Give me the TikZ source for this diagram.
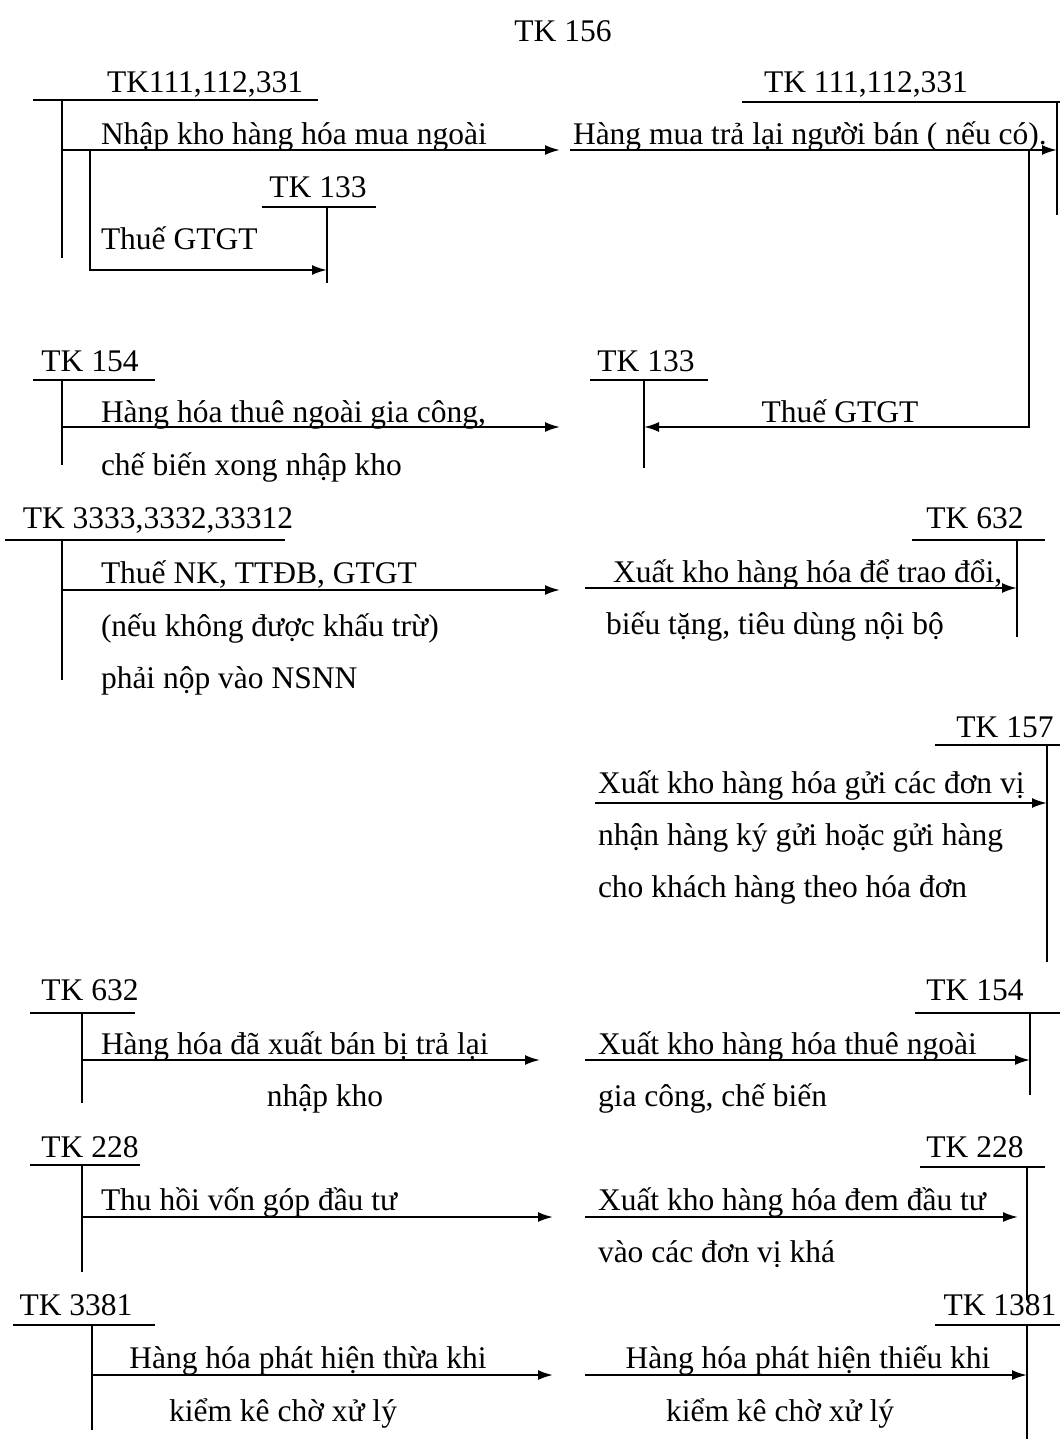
\documentclass[tikz,border=0pt]{standalone}
\usepackage{fontspec}
\setmainfont{Liberation Serif}
\usetikzlibrary{arrows.meta}

\begin{document}
\begin{tikzpicture}[x=1pt, y=-1pt, line width=2pt,
    every node/.style={font=\fontsize{31.5}{37}\selectfont, inner sep=0pt},
    tk/.style={anchor=base},
    txt/.style={anchor=base west},
    ctxt/.style={anchor=base},
    flow/.style={-{Latex[length=15pt,width=10pt]}}]
    \useasboundingbox (0,0) rectangle (1060,1439);

    % Title
    \node[tk] (t156) at (563,42) {TK 156};

    % TK 111,112,331 (left) with TK 133 branch
    \node[tk] (tkA) at (205,93) {TK111,112,331};
    \coordinate (aL) at (33,100); \coordinate (aR) at (318,100);
    \coordinate (aTop) at (62,100); \coordinate (aBot) at (62,258);
    \draw (aL) -- (aR);
    \draw (aTop) -- (aBot);
    \coordinate (aOut) at (62,150); \coordinate (aIn) at (560,150);
    \draw[flow] (aOut) -- (aIn);
    \node[txt] (nhapkho) at (100,145) {Nhập kho hàng hóa mua ngoài};
    \node[tk] (tkB) at (318,198) {TK 133};
    \coordinate (bL) at (262,207); \coordinate (bR) at (376,207);
    \coordinate (bTop) at (327,207); \coordinate (bBot) at (327,283);
    \draw (bL) -- (bR);
    \draw (bTop) -- (bBot);
    \coordinate (bOut) at (90,150); \coordinate (bIn) at (327,270);
    \draw[flow] (bOut) |- (bIn);
    \node[txt] (thueA) at (100,250) {Thuế GTGT};

    % TK 111,112,331 (right) with TK 133 return
    \node[tk] (tkC) at (866,93) {TK 111,112,331};
    \coordinate (cL) at (742,102); \coordinate (cR) at (1060,102);
    \coordinate (cTop) at (1057,102); \coordinate (cBot) at (1057,215);
    \draw (cL) -- (cR);
    \draw (cTop) -- (cBot);
    \coordinate (cOut) at (570,150); \coordinate (cIn) at (1057,150);
    \draw[flow] (cOut) -- (cIn);
    \node[txt] (tralai) at (572,145) {Hàng mua trả lại người bán ( nếu có).};
    \node[tk] (tkD) at (646,371) {TK 133};
    \coordinate (dL) at (590,380); \coordinate (dR) at (708,380);
    \coordinate (dTop) at (644,380); \coordinate (dBot) at (644,468);
    \draw (dL) -- (dR);
    \draw (dTop) -- (dBot);
    \coordinate (dOut) at (1029,150); \coordinate (dIn) at (644,427);
    \draw[flow] (dOut) |- (dIn);
    \node[ctxt] (thueD) at (840,422) {Thuế GTGT};

    % TK 154 (left)
    \node[tk] (tkE) at (90,371) {TK 154};
    \coordinate (eL) at (33,380); \coordinate (eR) at (155,380);
    \coordinate (eTop) at (62,380); \coordinate (eBot) at (62,465);
    \draw (eL) -- (eR);
    \draw (eTop) -- (eBot);
    \coordinate (eOut) at (62,427); \coordinate (eIn) at (560,427);
    \draw[flow] (eOut) -- (eIn);
    \node[txt] (giacong) at (100,422) {Hàng hóa thuê ngoài gia công,};
    \node[txt] (xong) at (100,475) {chế biến xong nhập kho};

    % TK 3333,3332,33312
    \node[tk] (tkF) at (158,528) {TK 3333,3332,33312};
    \coordinate (fL) at (5,540); \coordinate (fR) at (285,540);
    \coordinate (fTop) at (62,540); \coordinate (fBot) at (62,680);
    \draw (fL) -- (fR);
    \draw (fTop) -- (fBot);
    \coordinate (fOut) at (62,590); \coordinate (fIn) at (560,590);
    \draw[flow] (fOut) -- (fIn);
    \node[txt] (thueNK) at (100,583) {Thuế NK, TTĐB, GTGT};
    \node[txt] (khautru) at (100,636) {(nếu không được khấu trừ)};
    \node[txt] (nsnn) at (100,688) {phải nộp vào NSNN};

    % TK 632 (right)
    \node[tk] (tkG) at (975,528) {TK 632};
    \coordinate (gL) at (912,540); \coordinate (gR) at (1045,540);
    \coordinate (gTop) at (1017,540); \coordinate (gBot) at (1017,637);
    \draw (gL) -- (gR);
    \draw (gTop) -- (gBot);
    \coordinate (gOut) at (585,588); \coordinate (gIn) at (1017,588);
    \draw[flow] (gOut) -- (gIn);
    \node[txt] (traodoi) at (612,582) {Xuất kho hàng hóa để trao đổi,};
    \node[txt] (bieutang) at (605,634) {biếu tặng, tiêu dùng nội bộ};

    % TK 157
    \node[tk] (tkH) at (1005,737) {TK 157};
    \coordinate (hL) at (935,745); \coordinate (hR) at (1060,745);
    \coordinate (hTop) at (1047,745); \coordinate (hBot) at (1047,962);
    \draw (hL) -- (hR);
    \draw (hTop) -- (hBot);
    \coordinate (hOut) at (595,803); \coordinate (hIn) at (1047,803);
    \draw[flow] (hOut) -- (hIn);
    \node[txt] (guidv) at (597,793) {Xuất kho hàng hóa gửi các đơn vị};
    \node[txt] (kygui) at (597,845) {nhận hàng ký gửi hoặc gửi hàng};
    \node[txt] (hoadon) at (597,897) {cho khách hàng theo hóa đơn};

    % TK 632 (left)
    \node[tk] (tkI) at (90,1000) {TK 632};
    \coordinate (iL) at (30,1013); \coordinate (iR) at (135,1013);
    \coordinate (iTop) at (82,1013); \coordinate (iBot) at (82,1103);
    \draw (iL) -- (iR);
    \draw (iTop) -- (iBot);
    \coordinate (iOut) at (82,1060); \coordinate (iIn) at (540,1060);
    \draw[flow] (iOut) -- (iIn);
    \node[txt] (bitralai) at (100,1054) {Hàng hóa đã xuất bán bị trả lại};
    \node[ctxt] (nhapkhoI) at (325,1106) {nhập kho};

    % TK 154 (right)
    \node[tk] (tkJ) at (975,1000) {TK 154};
    \coordinate (jL) at (915,1013); \coordinate (jR) at (1060,1013);
    \coordinate (jTop) at (1030,1013); \coordinate (jBot) at (1030,1095);
    \draw (jL) -- (jR);
    \draw (jTop) -- (jBot);
    \coordinate (jOut) at (585,1060); \coordinate (jIn) at (1030,1060);
    \draw[flow] (jOut) -- (jIn);
    \node[txt] (thuengoai) at (597,1054) {Xuất kho hàng hóa thuê ngoài};
    \node[txt] (chebien) at (597,1106) {gia công, chế biến};

    % TK 228 (left)
    \node[tk] (tkK) at (90,1157) {TK 228};
    \coordinate (kL) at (30,1165); \coordinate (kR) at (140,1165);
    \coordinate (kTop) at (82,1165); \coordinate (kBot) at (82,1272);
    \draw (kL) -- (kR);
    \draw (kTop) -- (kBot);
    \coordinate (kOut) at (82,1217); \coordinate (kIn) at (553,1217);
    \draw[flow] (kOut) -- (kIn);
    \node[txt] (thuhoi) at (100,1210) {Thu hồi vốn góp đầu tư};

    % TK 228 (right)
    \node[tk] (tkL) at (975,1157) {TK 228};
    \coordinate (lL) at (920,1167); \coordinate (lR) at (1045,1167);
    \coordinate (lTop) at (1027,1167); \coordinate (lBot) at (1027,1300);
    \draw (lL) -- (lR);
    \draw (lTop) -- (lBot);
    \coordinate (lOut) at (585,1217); \coordinate (lIn) at (1018,1217);
    \draw[flow] (lOut) -- (lIn);
    \node[txt] (dautu) at (597,1210) {Xuất kho hàng hóa đem đầu tư};
    \node[txt] (donvi) at (597,1262) {vào các đơn vị khá};

    % TK 3381
    \node[tk] (tkM) at (76,1315) {TK 3381};
    \coordinate (mL) at (13,1325); \coordinate (mR) at (155,1325);
    \coordinate (mTop) at (92,1325); \coordinate (mBot) at (92,1430);
    \draw (mL) -- (mR);
    \draw (mTop) -- (mBot);
    \coordinate (mOut) at (92,1375); \coordinate (mIn) at (553,1375);
    \draw[flow] (mOut) -- (mIn);
    \node[ctxt] (thua) at (308,1368) {Hàng hóa phát hiện thừa khi};
    \node[ctxt] (kiemkeM) at (283,1421) {kiểm kê chờ xử lý};

    % TK 1381
    \node[tk] (tkN) at (1000,1315) {TK 1381};
    \coordinate (nL) at (935,1325); \coordinate (nR) at (1060,1325);
    \coordinate (nTop) at (1027,1325); \coordinate (nBot) at (1027,1439);
    \draw (nL) -- (nR);
    \draw (nTop) -- (nBot);
    \coordinate (nOut) at (585,1375); \coordinate (nIn) at (1027,1375);
    \draw[flow] (nOut) -- (nIn);
    \node[ctxt] (thieu) at (808,1368) {Hàng hóa phát hiện thiếu khi};
    \node[ctxt] (kiemkeN) at (780,1421) {kiểm kê chờ xử lý};
\end{tikzpicture}
\end{document}
